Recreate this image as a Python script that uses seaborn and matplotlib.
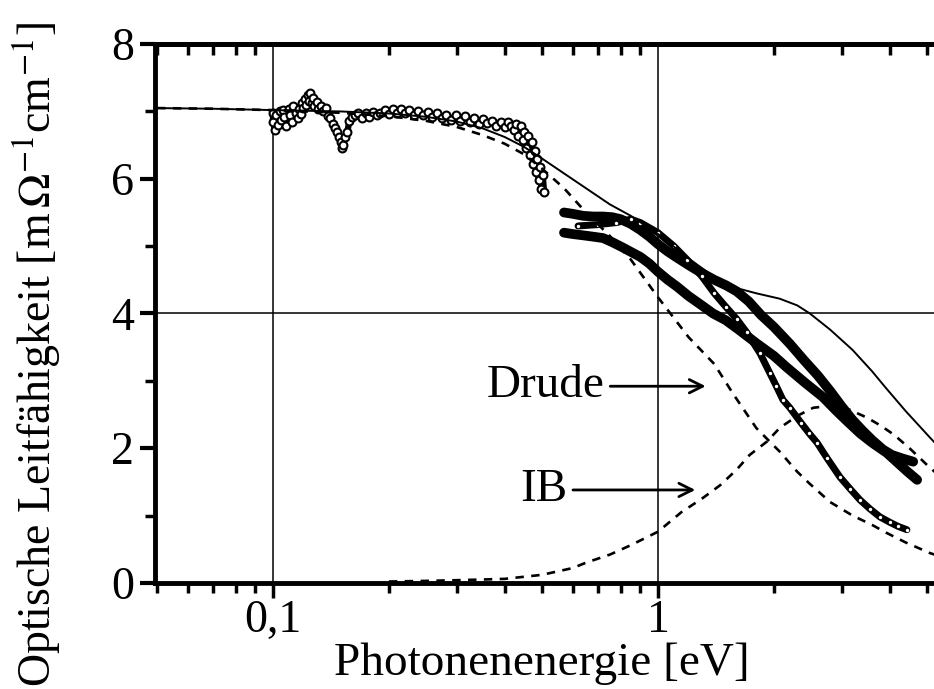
import matplotlib
matplotlib.use("Agg")
import matplotlib.pyplot as plt
import seaborn as sns
import pandas as pd
from matplotlib.ticker import LogLocator, NullFormatter, NullLocator, FixedLocator

sns.set_theme(style="white", rc={"axes.edgecolor": "black", "xtick.color": "black",
                                 "ytick.color": "black", "text.color": "black",
                                 "axes.labelcolor": "black"})
plt.rcParams["font.family"] = ["Liberation Serif", "DejaVu Serif"]
plt.rcParams["mathtext.fontset"] = "stix"

# --- model curves ---
model_x = [0.05, 0.07, 0.1, 0.15, 0.2, 0.25, 0.3, 0.35, 0.4, 0.45, 0.5, 0.57, 0.65,
           0.75, 0.85, 1.0, 1.2, 1.4, 1.57, 1.8, 2.07, 2.3, 2.48, 2.8, 3.2, 3.6, 3.9,
           4.4, 5.1, 5.3]
total_y = [7.05, 7.04, 7.02, 7.0, 6.97, 6.92, 6.85, 6.75, 6.62, 6.47, 6.3, 6.08, 5.86,
           5.62, 5.45, 5.18, 4.82, 4.54, 4.39, 4.3, 4.22, 4.12, 4.0, 3.76, 3.46, 3.14,
           2.9, 2.55, 2.15, 2.05]
drude_y = [7.05, 7.04, 7.02, 6.98, 6.93, 6.86, 6.77, 6.65, 6.52, 6.36, 6.15, 5.86, 5.5,
           5.15, 4.8, 4.24, 3.65, 3.25, 2.8, 2.3, 1.95, 1.65, 1.47, 1.2, 1.0, 0.86,
           0.75, 0.6, 0.44, 0.41]
ib_x = [0.2, 0.25, 0.3, 0.35, 0.4, 0.5, 0.6, 0.65, 0.75, 0.85, 1.0, 1.15, 1.3, 1.45,
        1.6, 1.73, 1.92, 2.07, 2.3, 2.53, 2.8, 3.15, 3.5, 3.8, 4.1, 4.5, 5.0, 5.3]
ib_y = [0.02, 0.03, 0.04, 0.05, 0.06, 0.12, 0.22, 0.3, 0.42, 0.56, 0.76, 1.05, 1.25,
        1.45, 1.68, 1.9, 2.1, 2.3, 2.48, 2.6, 2.63, 2.57, 2.45, 2.33, 2.2, 2.0, 1.75, 1.62]

# --- measured spectra ---
fir_x = [0.100, 0.100, 0.101, 0.102, 0.103, 0.104, 0.105, 0.106, 0.107, 0.108, 0.110,
         0.111, 0.112, 0.113, 0.115, 0.116, 0.117, 0.118, 0.119, 0.120, 0.121, 0.122,
         0.123, 0.124, 0.125, 0.126, 0.127, 0.128, 0.130, 0.131, 0.133, 0.135, 0.137,
         0.139, 0.141, 0.143, 0.145, 0.147, 0.148, 0.150, 0.151, 0.152, 0.154, 0.156,
         0.158, 0.160, 0.163, 0.166, 0.170, 0.174, 0.178, 0.182, 0.186, 0.190, 0.195,
         0.200, 0.205, 0.210, 0.215, 0.220, 0.226, 0.232, 0.238, 0.245, 0.252, 0.259,
         0.266, 0.274, 0.282, 0.290, 0.298, 0.306, 0.315, 0.324, 0.333, 0.342, 0.351,
         0.360, 0.370, 0.380, 0.390, 0.400, 0.408, 0.415, 0.422, 0.428, 0.434, 0.440,
         0.445, 0.450, 0.455, 0.460, 0.465, 0.470, 0.474, 0.478, 0.482, 0.486, 0.490,
         0.494, 0.498, 0.502, 0.506]
fir_y = [6.84, 6.97, 6.72, 6.95, 6.80, 7.00, 6.88, 7.02, 6.92, 6.78, 7.03,
         6.95, 6.85, 7.08, 6.98, 6.90, 7.04, 6.96, 7.12, 7.05, 7.18, 7.10,
         7.24, 7.15, 7.27, 7.12, 7.20, 7.08, 7.14, 7.03, 7.08, 7.00, 7.05,
         6.93, 6.90, 6.82, 6.76, 6.70, 6.62, 6.55, 6.45, 6.50, 6.62, 6.70,
         6.86, 6.92, 6.95, 6.97, 6.90, 6.98, 6.92, 6.99, 6.94, 6.97, 7.02,
         6.96, 7.03, 6.97, 7.04, 6.97, 7.02, 6.95, 7.00, 6.94, 6.99, 6.92,
         6.97, 6.90, 6.95, 6.88, 6.94, 6.86, 6.93, 6.85, 6.91, 6.82, 6.89,
         6.83, 6.86, 6.79, 6.85, 6.77, 6.84, 6.78, 6.72, 6.82, 6.64, 6.78,
         6.58, 6.70, 6.45, 6.64, 6.35, 6.55, 6.22, 6.42, 6.10, 6.30, 5.98,
         6.18, 5.85, 6.05, 5.80]

nir_a_x = [0.57, 0.6, 0.64, 0.68, 0.72, 0.76, 0.8, 0.85, 0.9, 0.95, 1.0, 1.06, 1.12,
           1.2, 1.3, 1.4, 1.5, 1.6, 1.72, 1.85, 2.0, 2.2, 2.4, 2.6, 2.8, 3.0, 3.2, 3.4,
           3.6, 3.84, 4.05, 4.3, 4.6]
nir_a_y = [5.5, 5.48, 5.45, 5.44, 5.44, 5.43, 5.4, 5.33, 5.24, 5.14, 5.03, 4.92, 4.83,
           4.72, 4.6, 4.5, 4.42, 4.33, 4.18, 3.98, 3.8, 3.55, 3.3, 3.08, 2.85, 2.62, 2.42,
           2.26, 2.12, 1.98, 1.9, 1.85, 1.8]
nir_b_x = [0.57, 0.6, 0.64, 0.68, 0.72, 0.76, 0.81, 0.86, 0.9, 0.95, 1.0, 1.06, 1.12,
           1.2, 1.3, 1.39, 1.5, 1.62, 1.8, 2.0, 2.16, 2.4, 2.68, 2.9, 3.1, 3.35, 3.6,
           3.93, 4.2, 4.45, 4.71]
nir_b_y = [5.2, 5.18, 5.16, 5.14, 5.12, 5.06, 4.98, 4.9, 4.84, 4.74, 4.62, 4.5, 4.4,
           4.26, 4.12, 4.0, 3.9, 3.76, 3.56, 3.37, 3.2, 2.98, 2.76, 2.56, 2.4, 2.22, 2.08,
           1.93, 1.78, 1.65, 1.53]
nir_c_x = [0.62, 0.7, 0.78, 0.85, 0.9, 1.0, 1.1, 1.19, 1.3, 1.4, 1.5, 1.6, 1.7, 1.84,
           1.95, 2.03, 2.11, 2.2, 2.35, 2.47, 2.59, 2.75, 2.97, 3.15, 3.35, 3.55, 3.77,
           4.0, 4.2, 4.43]
nir_c_y = [5.3, 5.32, 5.35, 5.4, 5.35, 5.2, 5.0, 4.8, 4.55, 4.3, 4.1, 3.92, 3.72, 3.41,
           3.12, 2.92, 2.72, 2.6, 2.38, 2.22, 2.08, 1.85, 1.57, 1.4, 1.23, 1.1, 0.98,
           0.9, 0.84, 0.79]

model = pd.DataFrame({"E": model_x, "total": total_y, "drude": drude_y})
ib = pd.DataFrame({"E": ib_x, "sigma": ib_y})
fir = pd.DataFrame({"E": fir_x, "sigma": fir_y})
nir_a = pd.DataFrame({"E": nir_a_x, "sigma": nir_a_y})
nir_b = pd.DataFrame({"E": nir_b_x, "sigma": nir_b_y})
nir_c = pd.DataFrame({"E": nir_c_x, "sigma": nir_c_y})

fig = plt.figure(figsize=(9.34, 6.89), dpi=100)
ax = fig.add_axes([0.166, 0.154, 0.834, 0.782])
ax.set_xscale("log")

# reference grid lines
ax.axvline(0.1, color="black", lw=1.1, zorder=1)
ax.axvline(1.0, color="black", lw=1.1, zorder=1)
ax.axhline(4.0, color="black", lw=1.1, zorder=1)

# measured data: FIR open circles, NIR/VIS dense traces
sns.lineplot(data=fir, x="E", y="sigma", estimator=None, sort=False, color="black",
             lw=4.5, ax=ax, zorder=3)
sns.scatterplot(data=fir, x="E", y="sigma", marker="o", s=32, facecolor="white",
                edgecolor="black", linewidth=1.5, ax=ax, zorder=4)
for d in (nir_a, nir_b):
    sns.lineplot(data=d, x="E", y="sigma", estimator=None, sort=False, color="black",
                 lw=7, ax=ax, zorder=3, solid_capstyle="round")
sns.lineplot(data=nir_c, x="E", y="sigma", estimator=None, sort=False, color="black",
             lw=5, ax=ax, zorder=3, solid_capstyle="round")
sns.scatterplot(data=nir_c, x="E", y="sigma", marker="o", s=6, color="white",
                linewidth=0, ax=ax, zorder=4)

# model curves
sns.lineplot(data=model, x="E", y="total", estimator=None, color="black", lw=1.4,
             ax=ax, zorder=5)
sns.lineplot(data=model, x="E", y="drude", estimator=None, color="black", lw=1.9,
             dashes=(3.2, 2.8), ax=ax, zorder=5)
sns.lineplot(data=ib, x="E", y="sigma", estimator=None, color="black", lw=1.9,
             dashes=(3.2, 2.8), ax=ax, zorder=5)

ax.set_xlim(0.0494, 5.21)
ax.set_ylim(0, 8)

# annotations
arrow = dict(arrowstyle="->", color="black", lw=2, shrinkA=2, shrinkB=0,
             mutation_scale=24)
ax.annotate("Drude", xy=(1.33, 2.92), xytext=(0.725, 2.92), ha="right", va="center",
            fontsize=34, arrowprops=arrow)
ax.annotate("IB", xy=(1.25, 1.38), xytext=(0.58, 1.38), ha="right", va="center",
            fontsize=34, arrowprops=arrow)

# axes styling
ax.set_xticks([0.1, 1], ["0,1", "1"])
ax.xaxis.set_minor_locator(LogLocator(base=10, subs=range(2, 10)))
ax.xaxis.set_minor_formatter(NullFormatter())
ax.set_yticks([0, 2, 4, 6, 8])
ax.yaxis.set_minor_locator(FixedLocator([1, 3, 5, 7]))
ax.tick_params(axis="x", which="major", direction="out", length=11, width=2.5,
               labelsize=33, pad=1, bottom=True)
ax.tick_params(axis="x", which="minor", direction="out", length=7, width=2.5, bottom=True)
ax.tick_params(axis="y", which="major", direction="out", length=11, width=3,
               labelsize=33, pad=4, left=True)
ax.tick_params(axis="y", which="minor", direction="out", length=7, width=2.5, left=True)

top = ax.secondary_xaxis("top")
top.xaxis.set_major_locator(NullLocator())
top.xaxis.set_minor_locator(LogLocator(base=10, subs=range(2, 10)))
top.xaxis.set_minor_formatter(NullFormatter())
top.tick_params(which="minor", direction="in", length=8, width=2.5, top=True)
top.spines["top"].set_linewidth(3.5)

for side in ("left", "bottom", "top"):
    ax.spines[side].set_linewidth(3.5)
    ax.spines[side].set_color("black")
ax.spines["right"].set_visible(False)

ax.set_xlabel("Photonenenergie [eV]", fontsize=34, va="baseline")
ax.set_ylabel(r"Optische Leitfähigkeit [m$\,\Omega^{-1}$cm$^{-1}$]", fontsize=33)
ax.xaxis.set_label_coords(0.497, -0.171)
ax.yaxis.set_label_coords(-0.118, 0.423)

fig.savefig("out.png", dpi=100)
